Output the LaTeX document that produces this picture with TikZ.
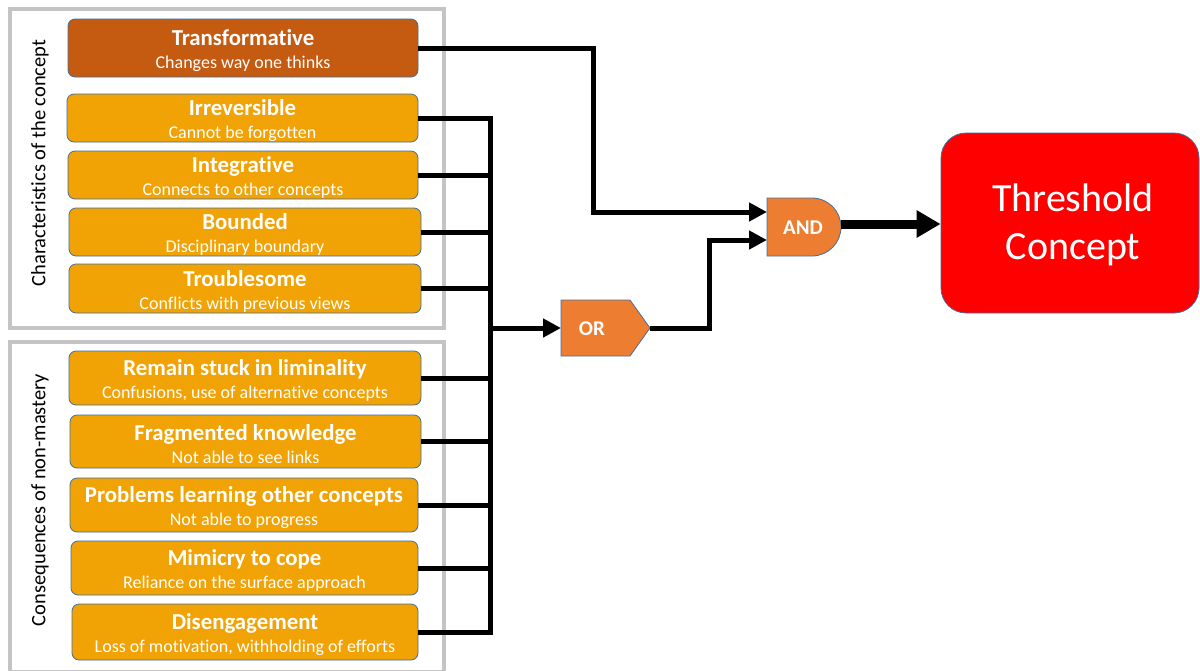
\documentclass[tikz,border=0pt]{standalone}
\usepackage{fontspec}
\setmainfont{Carlito}[Ligatures=NoCommon]
\usetikzlibrary{arrows.meta}
\definecolor{darkor}{HTML}{C55A11}
\definecolor{gold}{HTML}{F1A204}
\definecolor{gateor}{HTML}{ED7D31}
\definecolor{cardline}{HTML}{41719C}
\definecolor{groupgray}{HTML}{C4C4C4}
\definecolor{thred}{HTML}{FF0000}
\newcommand{\cardttl}[1]{{\fontsize{22.8}{23}\selectfont\bfseries #1}}
\newcommand{\cardsub}[1]{{\fontsize{18}{23}\selectfont #1}}
% \mkcard{name}{x}{y}{width}{height}{fill}{title}{subtitle}
\newcommand{\mkcard}[8]{%
  \node[card, fill=#6, minimum width=#4, minimum height=#5] (#1) at (#2,#3) {};
  \node[cardtext] (#1T) at ([yshift=-2.5pt]#1.center) {\cardttl{#7}\\\cardsub{#8}};
}
\begin{document}
\begin{tikzpicture}[x=1pt,y=-1pt,
  card/.style={draw=cardline, line width=0.8pt, rounded corners=7pt, inner sep=0pt},
  cardtext/.style={text=white, align=center, inner sep=0pt, font=\fontsize{18}{23}\selectfont},
  group/.style={draw=groupgray, line width=4pt},
  grouplabel/.style={rotate=90, font=\fontsize{20.5}{22}\selectfont, inner sep=0pt},
  wire/.style={line width=5pt, line join=miter},
  arr/.style={wire, -{Triangle[length=18pt,width=18pt]}},
  bigarr/.style={line width=9pt, -{Triangle[length=24pt,width=26pt]}},
  gate/.style={fill=gateor, draw=cardline, line width=0.8pt},
  gatetext/.style={text=white, font=\fontsize{21}{22}\selectfont\bfseries, inner sep=0pt}
]
\useasboundingbox (0,0) rectangle (1200,670);
\fill[white] (0,0) rectangle (1200,670);

% group frames
\draw[group] (10,9) rectangle (444,328);
\draw[group] (10,342) rectangle (444,672);
\node[grouplabel] (lab1) at (40,163) {Characteristics of the concept};
\node[grouplabel] (lab2) at (40,500) {Consequences of non-mastery};

% cards
\mkcard{trans}{243}{48}{350}{58}{darkor}{Transformative}{Changes way one thinks}
\mkcard{irr}{242.5}{118}{351}{48}{gold}{Irreversible}{Cannot be forgotten}
\mkcard{integ}{243}{175}{350}{48}{gold}{Integrative}{Connects to other concepts}
\mkcard{bound}{245}{232}{352}{48}{gold}{Bounded}{Disciplinary boundary}
\mkcard{troub}{245}{288.5}{352}{49}{gold}{Troublesome}{Conflicts with previous views}
\mkcard{remain}{245}{378}{352}{54}{gold}{Remain stuck in liminality}{Confusions, use of alternative concepts}
\mkcard{frag}{245.5}{441.5}{351}{53}{gold}{Fragmented knowledge}{Not able to see links}
\mkcard{prob}{244}{505}{348}{54}{gold}{Problems learning other concepts}{Not able to progress}
\mkcard{mim}{244.5}{568}{347}{54}{gold}{Mimicry to cope}{Reliance on the surface approach}
\mkcard{dis}{245}{632}{346}{56}{gold}{Disengagement}{Loss of motivation, withholding of efforts}

% gates
\draw[gate] (561,300) -- (630,300) -- (650,328) -- (630,356) -- (561,356) -- cycle;
\node[gatetext] (ortxt) at (592,329) {OR};
\draw[gate] (767,198) -- (812,198) arc[start angle=-90, end angle=90, radius=29] -- (767,256) -- cycle;
\node[gatetext] (andtxt) at (803,228) {AND};
\coordinate (orin) at (561,328);
\coordinate (orout) at (650,328);
\coordinate (andin1) at (767,212);
\coordinate (andin2) at (767,240);
\coordinate (andout) at (841,224);

% threshold
\node[draw=cardline, line width=0.8pt, fill=thred, rounded corners=25pt, minimum width=258, minimum height=180] (thr) at (1070,223) {};
\node[text=white, align=center, inner sep=0pt, font=\fontsize{40}{48}\selectfont] (thrtxt) at (1073,225) {Threshold\\Concept};

% wiring
\coordinate (bus) at (490,0);
\coordinate (busbot) at (490,632);
\coordinate (busor) at (490,328);
\coordinate (tbend) at (593,212);
\coordinate (orbend) at (709,240);
\draw[wire] (irr.east) -| (busbot) -- (dis.east);
\foreach \n in {integ,bound,troub,remain,frag,prob,mim}
  \draw[wire] (\n.east) -- (\n.east -| bus);
\draw[arr] (busor) -- (orin);
\draw[arr] (trans.east) -| (tbend) -- (andin1);
\draw[arr] (orout) -| (orbend) -- (andin2);
\draw[bigarr] (andout) -- (thr.west |- andout);
\end{tikzpicture}
\end{document}
